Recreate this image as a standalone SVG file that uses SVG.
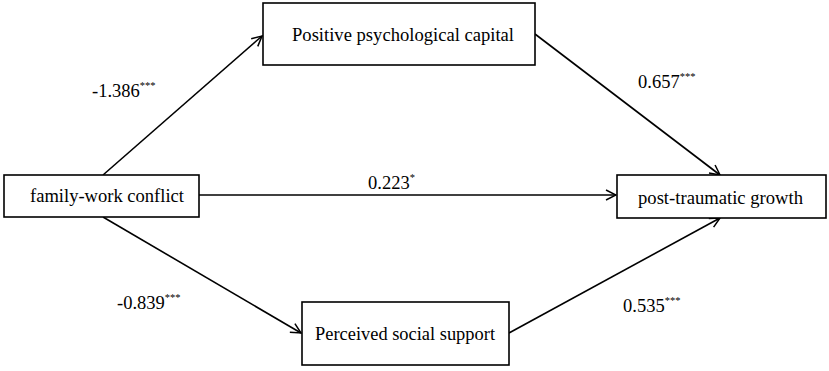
<svg xmlns="http://www.w3.org/2000/svg" width="829" height="371" viewBox="0 0 829 371">
<defs>
<marker id="arr" viewBox="0 0 12 12" refX="11" refY="6" markerWidth="12" markerHeight="12" markerUnits="userSpaceOnUse" orient="auto">
<path d="M1,1 L11,6 L1,11" fill="none" stroke="#000" stroke-width="1.5"/>
</marker>
<style>
.box{fill:#fff;stroke:#000;stroke-width:1.6}
.lbl{font-family:"Liberation Serif",serif;font-size:18.5px;fill:#000}
.sup{font-size:10.5px}
.edge{stroke:#000;stroke-width:1.6;fill:none;marker-end:url(#arr)}
</style>
</defs>
<rect width="829" height="371" fill="#fff"/>
<g id="connectors">
<line class="edge" x1="103" y1="175" x2="262" y2="36"/>
<line class="edge" x1="535" y1="34" x2="720" y2="175"/>
<line class="edge" x1="199" y1="195" x2="616" y2="195"/>
<line class="edge" x1="103" y1="217" x2="301" y2="333"/>
<line class="edge" x1="509" y1="333" x2="720" y2="218"/>
<text class="lbl" x="92" y="97">-1.386<tspan class="sup" dy="-8">***</tspan></text>
<text class="lbl" x="638" y="88">0.657<tspan class="sup" dy="-8">***</tspan></text>
<text class="lbl" x="368" y="189">0.223<tspan class="sup" dy="-8">*</tspan></text>
<text class="lbl" x="117" y="309">-0.839<tspan class="sup" dy="-8">***</tspan></text>
<text class="lbl" x="623" y="312">0.535<tspan class="sup" dy="-8">***</tspan></text>
</g>
<g id="ppc">
<rect class="box" x="263" y="3" width="272" height="62"/>
<text class="lbl" x="292" y="41" textLength="222" lengthAdjust="spacingAndGlyphs">Positive psychological capital</text>
</g>
<g id="fwc">
<rect class="box" x="4" y="175" width="195" height="42"/>
<text class="lbl" x="30" y="202" textLength="154" lengthAdjust="spacingAndGlyphs">family-work conflict</text>
</g>
<g id="ptg">
<rect class="box" x="617" y="175" width="209" height="43"/>
<text class="lbl" x="638" y="204" textLength="165" lengthAdjust="spacingAndGlyphs">post-traumatic growth</text>
</g>
<g id="pss">
<rect class="box" x="302" y="302" width="207" height="63"/>
<text class="lbl" x="315" y="340" textLength="180" lengthAdjust="spacingAndGlyphs">Perceived social support</text>
</g>
</svg>
